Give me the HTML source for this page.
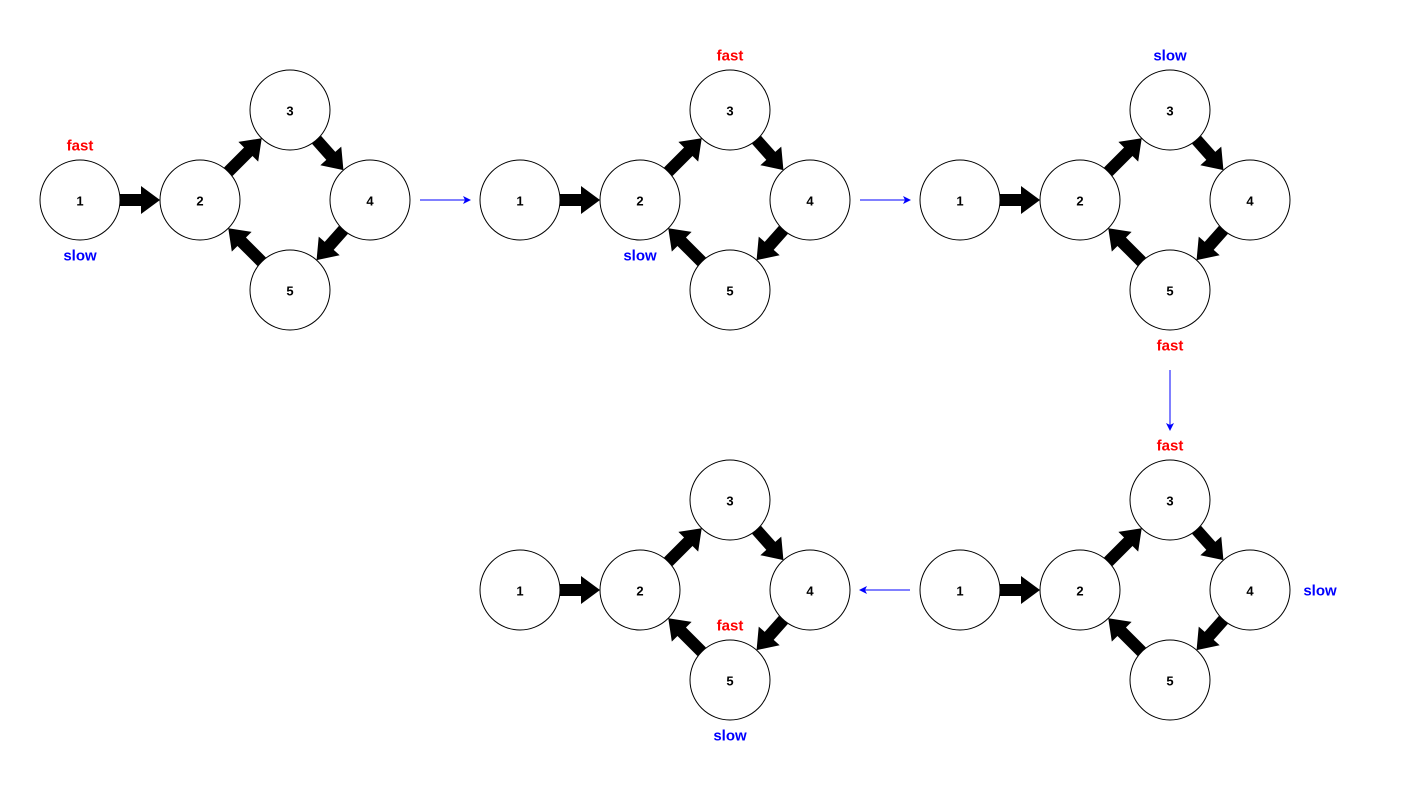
<!DOCTYPE html>
<html><head><meta charset="utf-8"><style>
html,body{margin:0;padding:0;background:#fff;}
svg{display:block;}
text{font-family:"Liberation Sans",Arial,sans-serif;font-weight:bold;text-anchor:middle;dominant-baseline:central;}
.n{font-size:13px;fill:#000;}
.f{font-size:15px;fill:#ff0000;}
.s{font-size:15px;fill:#0000ff;}
</style></head><body>
<svg id="s" width="1401" height="801" viewBox="0 0 1401 801" xmlns="http://www.w3.org/2000/svg">
<defs><marker id="bh" markerWidth="8" markerHeight="8" refX="7" refY="4" orient="auto" markerUnits="userSpaceOnUse"><path d="M0,0 L8,4 L0,8 L2,4 Z" fill="#0000ff"/></marker></defs>
<g id="shapes"></g>
<line x1="420" y1="200" x2="470" y2="200" stroke="#0000ff" stroke-width="1" marker-end="url(#bh)"/>
<line x1="860" y1="200" x2="910" y2="200" stroke="#0000ff" stroke-width="1" marker-end="url(#bh)"/>
<line x1="1170" y1="370" x2="1170" y2="430" stroke="#0000ff" stroke-width="1" marker-end="url(#bh)"/>
<line x1="910" y1="590" x2="860" y2="590" stroke="#0000ff" stroke-width="1" marker-end="url(#bh)"/>
<g id="labels" transform="translate(0,1)">
<text class="n" x="80" y="200">1</text><text class="n" x="200" y="200">2</text><text class="n" x="290" y="110">3</text><text class="n" x="370" y="200">4</text><text class="n" x="290" y="290">5</text>
<text class="n" x="520" y="200">1</text><text class="n" x="640" y="200">2</text><text class="n" x="730" y="110">3</text><text class="n" x="810" y="200">4</text><text class="n" x="730" y="290">5</text>
<text class="n" x="960" y="200">1</text><text class="n" x="1080" y="200">2</text><text class="n" x="1170" y="110">3</text><text class="n" x="1250" y="200">4</text><text class="n" x="1170" y="290">5</text>
<text class="n" x="960" y="590">1</text><text class="n" x="1080" y="590">2</text><text class="n" x="1170" y="500">3</text><text class="n" x="1250" y="590">4</text><text class="n" x="1170" y="680">5</text>
<text class="n" x="520" y="590">1</text><text class="n" x="640" y="590">2</text><text class="n" x="730" y="500">3</text><text class="n" x="810" y="590">4</text><text class="n" x="730" y="680">5</text>
<text class="f" x="80" y="145">fast</text><text class="s" x="80" y="255">slow</text>
<text class="f" x="730" y="55">fast</text><text class="s" x="640" y="255">slow</text>
<text class="s" x="1170" y="55">slow</text><text class="f" x="1170" y="345">fast</text>
<text class="f" x="1170" y="445">fast</text><text class="s" x="1320" y="590">slow</text>
<text class="f" x="730" y="625">fast</text><text class="s" x="730" y="735">slow</text>
</g>
</svg>
<script>
(function(){
var g=document.getElementById('shapes'),h='';
var offs=[[0,0],[440,0],[880,0],[880,390],[440,390]];
var base=[[80,200],[200,200],[290,110],[370,200],[290,290]];
var edges=[[0,1],[1,2],[2,3],[3,4],[4,1]];
offs.forEach(function(o){
 var p=base.map(function(b){return [b[0]+o[0],b[1]+o[1]];});
 p.forEach(function(c){h+='<circle cx="'+c[0]+'" cy="'+c[1]+'" r="40" fill="#fff" stroke="#000" stroke-width="1"/>';});
 edges.forEach(function(e){
  var a=p[e[0]],b=p[e[1]],dx=b[0]-a[0],dy=b[1]-a[1],L=Math.sqrt(dx*dx+dy*dy),ux=dx/L,uy=dy/L;
  var sx=a[0]+ux*40,sy=a[1]+uy*40,len=L-80,ang=Math.atan2(dy,dx)*180/Math.PI,hl=19;
  h+='<path transform="translate('+sx+','+sy+') rotate('+ang+')" d="M0,-6 L'+(len-hl)+',-6 L'+(len-hl)+',-14 L'+len+',0 L'+(len-hl)+',14 L'+(len-hl)+',6 L0,6 Z" fill="#000"/>';
 });
});
g.innerHTML=h;
})();
</script>
</body></html>
